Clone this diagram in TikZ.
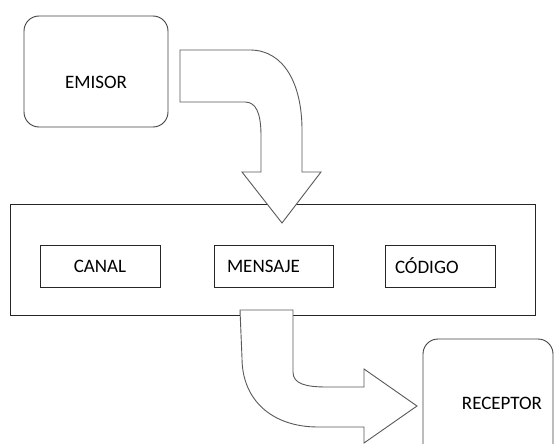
\documentclass[tikz,border=0pt]{standalone}
\usepackage{fontspec}
\setmainfont{Carlito}

\begin{document}
\begin{tikzpicture}[x=1pt,y=-1pt,font=\fontsize{19}{22}\selectfont,
  box/.style={draw=black!85,line width=0.9pt,minimum height=42pt,inner sep=0pt},
  roundbox/.style={draw=black!75,line width=0.9pt,rounded corners=15pt,inner sep=0pt},
  bigarrow/.style={draw=black!65,fill=white,line width=0.9pt}]
  \useasboundingbox (0,0) rectangle (555,444);
  \clip (0,0) rectangle (555,444);
  % emisor / receptor
  \node[roundbox,minimum width=144pt,minimum height=111pt] (emisor) at (96,71.5) {};
  \node (emisortxt) at (96,82) {EMISOR};
  \node[roundbox,minimum width=130pt,minimum height=131pt] (receptor) at (488,404.5) {};
  \node (receptortxt) at (502,403) {RECEPTOR};
  % frame with the three boxes
  \node[box,minimum width=525pt,minimum height=111pt] (marco) at (272.5,259.5) {};
  \node[box,minimum width=120pt] (canal) at (100,266) {CANAL};
  \node[box,minimum width=119pt,text width=93pt,inner xsep=13pt,align=left] (mensaje) at (273.5,266) {MENSAJE};
  \node[box,minimum width=110pt,text width=90pt,inner xsep=10pt,align=left] (codigo) at (440,266) {CÓDIGO};
  % block arrows
  \draw[bigarrow] (180,50) -- (250,50) .. controls (284,50) and (302,84) .. (302,130) -- (302,172) -- (321,172)
    -- (282,223) -- (242,172) -- (261,172) -- (261,136) .. controls (261,113) and (256,102) .. (245,102) -- (180,102) -- cycle;
  \draw[bigarrow] (240,310) -- (293,310) -- (293,372) .. controls (293,384) and (306,387) .. (327,387) -- (364,387)
    -- (364,369) -- (417,406) -- (364,443) -- (364,427) -- (318,427) .. controls (272,427) and (242,400) .. (242,358) -- cycle;
\end{tikzpicture}
\end{document}
